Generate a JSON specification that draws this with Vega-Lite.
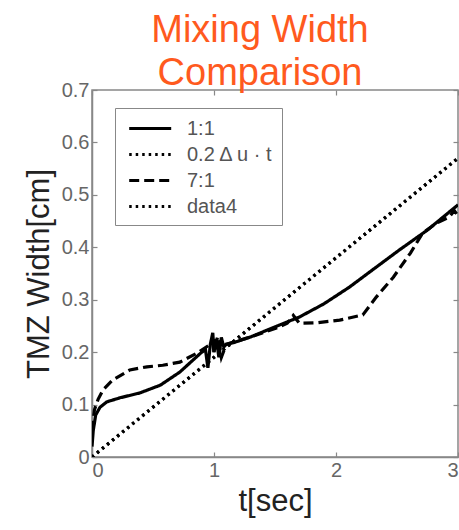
{
  "$schema": "https://vega.github.io/schema/vega-lite/v6.json",
  "width": 366,
  "height": 367,
  "autosize": {"type": "none"},
  "padding": {"left": 92, "top": 90, "right": 1, "bottom": 73},
  "background": "white",
  "title": {
    "text": ["Mixing Width", "Comparison"],
    "fontSize": 38,
    "font": "Liberation Sans",
    "fontWeight": "normal",
    "color": "#ff5a1e",
    "anchor": "middle",
    "dx": -15,
    "lineHeight": 43,
    "offset": -13
  },
  "config": {
    "view": {"stroke": "#888", "strokeWidth": 1.5},
    "font": "Liberation Sans",
    "axis": {
      "grid": false,
      "domainColor": "#888",
      "domainWidth": 1.5,
      "tickColor": "#888",
      "tickSize": -5,
      "tickWidth": 1.2,
      "labelFont": "Liberation Sans",
      "labelFontSize": 20,
      "labelColor": "#666",
      "titleFont": "Liberation Sans",
      "titleFontSize": 31,
      "titleFontWeight": "normal",
      "titleColor": "#222"
    }
  },
  "data": {
    "values": [
      {"s": "1:1", "t": 0, "w": 0.02},
      {"s": "1:1", "t": 0.01, "w": 0.05},
      {"s": "1:1", "t": 0.03, "w": 0.08},
      {"s": "1:1", "t": 0.066, "w": 0.095},
      {"s": "1:1", "t": 0.12, "w": 0.105},
      {"s": "1:1", "t": 0.23, "w": 0.113},
      {"s": "1:1", "t": 0.39, "w": 0.122},
      {"s": "1:1", "t": 0.56, "w": 0.137},
      {"s": "1:1", "t": 0.72, "w": 0.162},
      {"s": "1:1", "t": 0.89, "w": 0.198},
      {"s": "1:1", "t": 0.93, "w": 0.205},
      {"s": "1:1", "t": 0.95, "w": 0.17},
      {"s": "1:1", "t": 0.97, "w": 0.215},
      {"s": "1:1", "t": 0.99, "w": 0.237},
      {"s": "1:1", "t": 1.0, "w": 0.2},
      {"s": "1:1", "t": 1.02, "w": 0.225},
      {"s": "1:1", "t": 1.04, "w": 0.19},
      {"s": "1:1", "t": 1.06, "w": 0.228},
      {"s": "1:1", "t": 1.08, "w": 0.21},
      {"s": "1:1", "t": 1.1, "w": 0.215},
      {"s": "1:1", "t": 1.16, "w": 0.218},
      {"s": "1:1", "t": 1.3, "w": 0.229},
      {"s": "1:1", "t": 1.54, "w": 0.252},
      {"s": "1:1", "t": 1.7, "w": 0.267},
      {"s": "1:1", "t": 1.9, "w": 0.292},
      {"s": "1:1", "t": 2.11, "w": 0.324},
      {"s": "1:1", "t": 2.3, "w": 0.357},
      {"s": "1:1", "t": 2.52, "w": 0.395},
      {"s": "1:1", "t": 2.75, "w": 0.433},
      {"s": "1:1", "t": 3.0, "w": 0.481},
      {"s": "0.2 Δ u · t", "t": 0, "w": 0},
      {"s": "0.2 Δ u · t", "t": 3, "w": 0.57},
      {"s": "7:1", "t": 0, "w": 0.05},
      {"s": "7:1", "t": 0.02, "w": 0.09},
      {"s": "7:1", "t": 0.05, "w": 0.11},
      {"s": "7:1", "t": 0.09, "w": 0.128},
      {"s": "7:1", "t": 0.17, "w": 0.147},
      {"s": "7:1", "t": 0.31, "w": 0.166},
      {"s": "7:1", "t": 0.45, "w": 0.172},
      {"s": "7:1", "t": 0.58, "w": 0.175},
      {"s": "7:1", "t": 0.72, "w": 0.181},
      {"s": "7:1", "t": 0.86, "w": 0.198},
      {"s": "7:1", "t": 0.99, "w": 0.218},
      {"s": "7:1", "t": 1.0, "w": 0.2},
      {"s": "7:1", "t": 1.03, "w": 0.23},
      {"s": "7:1", "t": 1.06, "w": 0.19},
      {"s": "7:1", "t": 1.1, "w": 0.215},
      {"s": "7:1", "t": 1.3, "w": 0.229},
      {"s": "7:1", "t": 1.5, "w": 0.245},
      {"s": "7:1", "t": 1.6, "w": 0.255},
      {"s": "7:1", "t": 1.65, "w": 0.27},
      {"s": "7:1", "t": 1.7, "w": 0.255},
      {"s": "7:1", "t": 1.84, "w": 0.256},
      {"s": "7:1", "t": 2.03, "w": 0.261},
      {"s": "7:1", "t": 2.22, "w": 0.271},
      {"s": "7:1", "t": 2.33, "w": 0.305},
      {"s": "7:1", "t": 2.47, "w": 0.343},
      {"s": "7:1", "t": 2.61, "w": 0.389},
      {"s": "7:1", "t": 2.71, "w": 0.427},
      {"s": "7:1", "t": 2.83, "w": 0.447},
      {"s": "7:1", "t": 2.93, "w": 0.458},
      {"s": "7:1", "t": 2.97, "w": 0.47},
      {"s": "7:1", "t": 3.0, "w": 0.46},
      {"s": "data4", "t": 0, "w": 0},
      {"s": "data4", "t": 3, "w": 0.57}
    ]
  },
  "layer": [
    {
      "mark": {"type": "line", "color": "black", "strokeWidth": 3.2, "clip": true},
      "encoding": {
        "x": {
          "field": "t", "type": "quantitative",
          "scale": {"domain": [0, 3], "nice": false, "zero": false},
          "axis": {"values": [0, 1, 2, 3], "format": "d", "title": "t[sec]", "labelPadding": 8, "titlePadding": 6}
        },
        "y": {
          "field": "w", "type": "quantitative",
          "scale": {"domain": [0, 0.7], "nice": false},
          "axis": {"values": [0, 0.1, 0.2, 0.3, 0.4, 0.5, 0.6, 0.7], "format": "~g", "title": "TMZ Width[cm]", "labelPadding": 8, "titlePadding": 6}
        },
        "strokeDash": {
          "field": "s", "type": "nominal",
          "scale": {
            "domain": ["1:1", "0.2 Δ u · t", "7:1", "data4"],
            "range": [[1, 0], [2.5, 4], [10, 5], [2.5, 4]]
          },
          "legend": {
            "title": null,
            "orient": "none",
            "legendX": 23,
            "legendY": 18,
            "direction": "vertical",
            "strokeColor": "#888",
            "fillColor": "white",
            "padding": 8,
            "symbolType": "M-0.6,0H3.4",
            "symbolSize": 441,
            "symbolStrokeWidth": 3.2,
            "symbolStrokeColor": "black",
            "symbolFillColor": "transparent",
            "labelFont": "Liberation Sans",
            "labelFontSize": 20,
            "labelColor": "#555",
            "labelOffset": 39,
            "rowPadding": 3
          }
        }
      }
    },
    {
      "mark": {"type": "point", "opacity": 0},
      "encoding": {
        "x": {"field": "t", "type": "quantitative", "axis": {"orient": "top", "values": [0, 1, 2, 3], "labels": false, "title": null, "domain": false}},
        "y": {"field": "w", "type": "quantitative", "axis": {"orient": "right", "values": [0, 0.1, 0.2, 0.3, 0.4, 0.5, 0.6, 0.7], "labels": false, "title": null, "domain": false}}
      }
    }
  ],
  "resolve": {"axis": {"x": "independent", "y": "independent"}}
}
